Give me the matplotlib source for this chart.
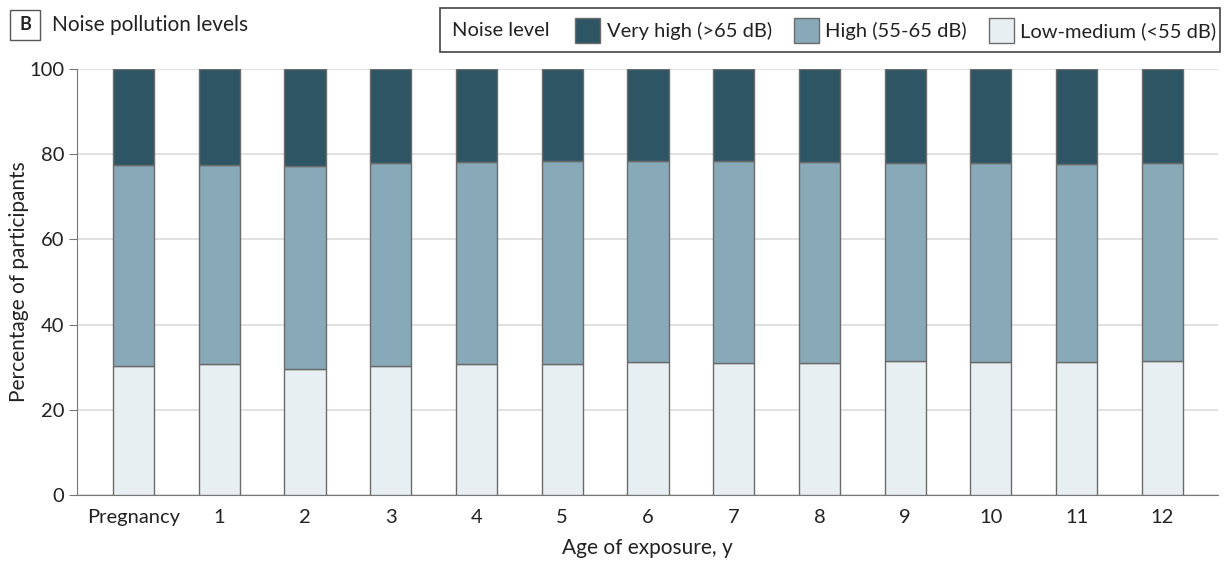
import matplotlib
matplotlib.use("Agg")
import matplotlib.pyplot as plt
from matplotlib.patches import Rectangle
import numpy as np

categories = ["Pregnancy", "1", "2", "3", "4", "5", "6", "7", "8", "9", "10", "11", "12"]
low_medium = [30.3, 30.8, 29.6, 30.3, 30.8, 30.8, 31.2, 31.0, 31.0, 31.5, 31.2, 31.2, 31.5]
high_top = [77.5, 77.5, 77.2, 77.9, 78.2, 78.4, 78.4, 78.4, 78.2, 77.9, 77.9, 77.7, 77.9]
high = [h - l for h, l in zip(high_top, low_medium)]
very_high = [100 - h for h in high_top]
series_labels = ["Very high (>65 dB)", "High (55-65 dB)", "Low-medium (<55 dB)"]
yticks = [0, 20, 40, 60, 80, 100]

c_very = "#2e5564"
c_high = "#87a9b8"
c_low = "#e8eff3"
edge = "#6b6b6b"
txt = "#222222"

plt.rcParams['font.family'] = ['Lato', 'DejaVu Sans']
fig = plt.figure(figsize=(12.25, 5.66), dpi=100)
W, H = 1225, 566
ax = fig.add_axes([77/W, 1-495/H, (1218-77)/W, (495-69)/H])

x = np.arange(len(categories))
w = 0.48
ax.bar(x, low_medium, w, color=c_low, edgecolor=edge, linewidth=1.0, zorder=3)
ax.bar(x, high, w, bottom=low_medium, color=c_high, edgecolor=edge, linewidth=1.0, zorder=3)
ax.bar(x, very_high, w, bottom=high_top, color=c_very, edgecolor=edge, linewidth=1.0, zorder=3)

ax.set_xlim(-0.66, 12.65)
ax.set_ylim(0, 100)
ax.set_yticks(yticks)
ax.set_xticks(x)
ax.set_xticklabels(categories)
ax.yaxis.grid(True, color="#dcdcdc", linewidth=1.2, zorder=0)
ax.set_axisbelow(True)
for s in ["top", "right"]:
    ax.spines[s].set_visible(False)
ax.spines["left"].set_color("#777777")
ax.spines["bottom"].set_color("#777777")
ax.tick_params(axis="y", length=6, color="#777777", labelsize=14.5, pad=3, labelcolor=txt)
ax.tick_params(axis="x", length=0, labelsize=14.5, pad=10, labelcolor=txt)
ax.set_ylabel("Percentage of participants", fontsize=15, color=txt)
ax.yaxis.set_label_coords((29-77)/1141, 0.5)
ax.set_xlabel("Age of exposure, y", fontsize=15, color=txt, labelpad=9)

# Panel label and title
fig.patches.append(Rectangle((10/W, 1-40/H), 30/W, 30/H, transform=fig.transFigure,
                             fill=False, edgecolor="#555555", linewidth=1.0))
fig.text(25/W, 1-25/H, "B", ha="center", va="center", fontsize=13, fontweight="bold", color=txt)
fig.text(52/W, 1-25/H, "Noise pollution levels", ha="left", va="center", fontsize=15, color=txt)

# Legend box
fig.patches.append(Rectangle((440/W, 1-52/H), (1220-440)/W, 44/H, transform=fig.transFigure,
                             fill=False, edgecolor="#444444", linewidth=1.2))
fig.text(452/W, 1-31/H, "Noise level", ha="left", va="center", fontsize=14.5, color=txt)
patch_x = [575, 794, 989]
text_x = [607, 825, 1020]
for px, tx, col, lab in zip(patch_x, text_x, [c_very, c_high, c_low], series_labels):
    fig.patches.append(Rectangle((px/W, 1-43/H), 25/W, 25/H, transform=fig.transFigure,
                                 facecolor=col, edgecolor=edge, linewidth=1.0))
    fig.text(tx/W, 1-31/H, lab, ha="left", va="center", fontsize=14.5, color=txt)

fig.savefig("out.png", dpi=100)
